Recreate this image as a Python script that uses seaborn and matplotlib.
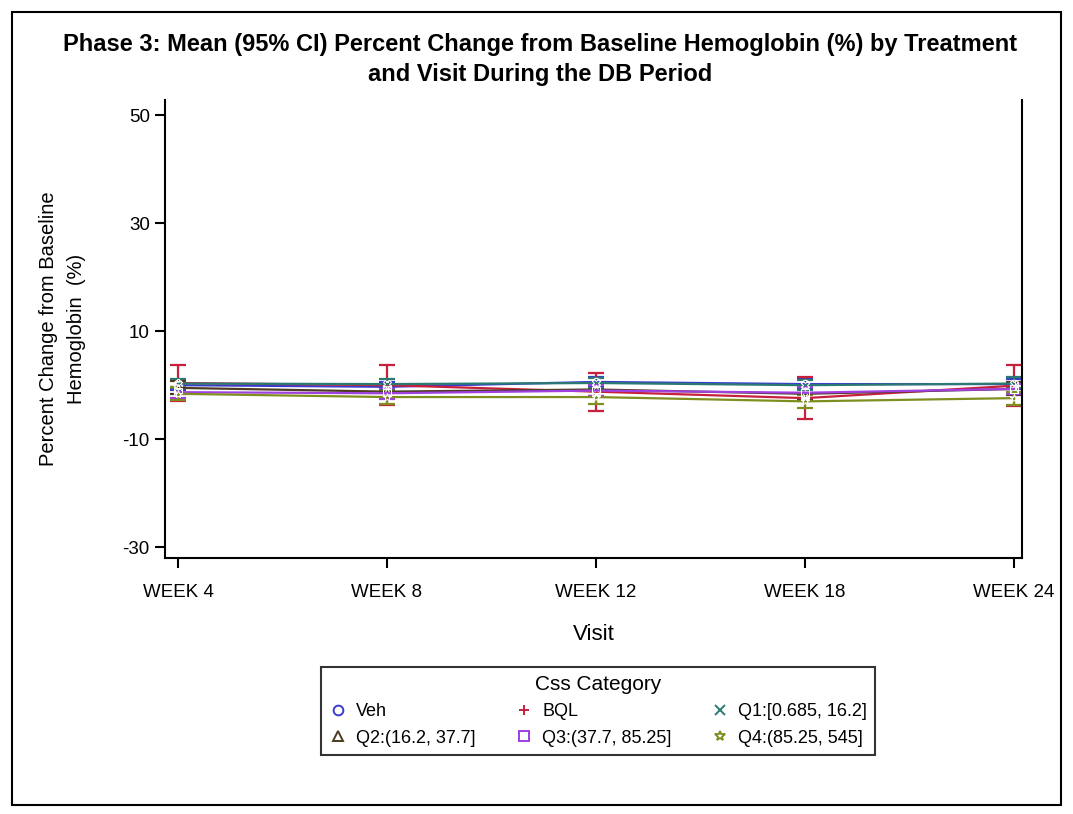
import numpy as np
import pandas as pd
import matplotlib
matplotlib.use("Agg")
import matplotlib.pyplot as plt
import seaborn as sns
from matplotlib.lines import Line2D
from matplotlib.patches import Rectangle

# Visits and treatment groups
visits = ["WEEK 4", "WEEK 8", "WEEK 12", "WEEK 18", "WEEK 24"]
groups = ["Veh", "BQL", "Q1:[0.685, 16.2]", "Q2:(16.2, 37.7]",
          "Q3:(37.7, 85.25]", "Q4:(85.25, 545]"]

# Mean percent change and 95% CI bounds per group
veh_mean = [0.0, -0.3, 0.6, 0.2, 0.2]
veh_lo = [-0.9, -1.2, -0.3, -0.7, -0.7]
veh_hi = [0.9, 0.6, 1.5, 1.1, 1.1]

bql_mean = [0.4, 0.0, -1.2, -2.4, -0.1]
bql_lo = [-2.9, -3.7, -4.8, -6.3, -3.9]
bql_hi = [3.7, 3.7, 2.3, 1.5, 3.7]

q1_mean = [0.3, 0.2, 0.4, 0.0, 0.3]
q1_lo = [-0.6, -0.7, -0.5, -0.9, -0.6]
q1_hi = [1.2, 1.1, 1.3, 0.9, 1.5]

q2_mean = [-0.5, -1.2, -0.8, -1.6, -0.7]
q2_lo = [-1.7, -2.4, -2.0, -2.8, -1.9]
q2_hi = [0.7, 0.0, 0.4, -0.4, 0.5]

q3_mean = [-1.3, -1.5, -1.0, -1.4, -0.7]
q3_lo = [-2.3, -2.5, -2.0, -2.4, -1.7]
q3_hi = [-0.3, -0.5, 0.0, -0.4, 0.3]

q4_mean = [-1.6, -2.2, -2.2, -3.0, -2.4]
q4_lo = [-2.8, -3.4, -3.4, -4.2, -3.6]
q4_hi = [-0.4, -1.0, -1.0, -1.8, -1.2]

colors = ["#3b3bd0", "#c8203c", "#2b7a72", "#4d3b22", "#a040e0", "#7f8e1f"]
line_markers = ["o", "P", "X", "^", "s", "*"]
legend_markers = ["o", "+", "x", "^", "s", "*"]

means = [veh_mean, bql_mean, q1_mean, q2_mean, q3_mean, q4_mean]
lows = [veh_lo, bql_lo, q1_lo, q2_lo, q3_lo, q4_lo]
highs = [veh_hi, bql_hi, q1_hi, q2_hi, q3_hi, q4_hi]

rows = []
for g, m, lo, hi in zip(groups, means, lows, highs):
    for i, v in enumerate(visits):
        rows.append({"group": g, "pos": i, "visit": v,
                     "mean": m[i], "lo": lo[i], "hi": hi[i]})
df = pd.DataFrame(rows)

sns.set_theme(style="white")
plt.rcParams["font.family"] = ["Liberation Sans", "DejaVu Sans"]
plt.rcParams["text.color"] = "black"
plt.rcParams["axes.labelcolor"] = "black"
plt.rcParams["xtick.color"] = "black"
plt.rcParams["ytick.color"] = "black"

fig = plt.figure(figsize=(10.73, 8.14), dpi=100)
W, H = 1073, 814
ax = fig.add_axes([165 / W, 1 - 558 / H, (1022 - 165) / W, (558 - 100) / H])

palette = dict(zip(groups, colors))
sns.lineplot(data=df, x="pos", y="mean", hue="group", palette=palette,
             hue_order=groups, style="group", style_order=groups,
             markers=dict(zip(groups, line_markers)),
             dashes=False, markersize=6, linewidth=1.6, legend=False,
             ax=ax, zorder=3)
for line in ax.lines:
    line.set_markerfacecolor("none")

for g, c in zip(groups, colors):
    sub = df[df["group"] == g]
    ax.errorbar(sub["pos"], sub["mean"],
                yerr=[sub["mean"] - sub["lo"], sub["hi"] - sub["mean"]],
                fmt="none", ecolor=c, elinewidth=1.6, capsize=6,
                capthick=1.6, zorder=2)

ax.set_xlim(-0.062, 4.038)
ax.set_ylim(-32, 52.8)
ax.set_xticks(range(len(visits)))
ax.set_xticklabels(visits, fontsize=13.5)
ax.set_yticks([-30, -10, 10, 30, 50])
ax.set_yticklabels(["-30", "-10", "10", "30", "50"], fontsize=13.5)
ax.tick_params(axis="both", direction="out", length=7, width=1.5,
               color="black", bottom=True, left=True)
ax.tick_params(axis="x", pad=12)
ax.tick_params(axis="y", pad=4)
for side in ["left", "right", "bottom"]:
    ax.spines[side].set_visible(True)
    ax.spines[side].set_color("black")
    ax.spines[side].set_linewidth(1.5)
ax.spines["top"].set_visible(False)
ax.set_xlabel("Visit", fontsize=16, labelpad=16)
ax.set_ylabel("Percent Change from Baseline\nHemoglobin  (%)", fontsize=14.5,
              labelpad=26, linespacing=1.6)

fig.text(540 / W, 1 - 45 / H,
         "Phase 3: Mean (95% CI) Percent Change from Baseline Hemoglobin (%) by Treatment",
         ha="center", va="center", fontsize=17, fontweight="bold")
fig.text(540 / W, 1 - 74 / H, "and Visit During the DB Period",
         ha="center", va="center", fontsize=17, fontweight="bold")

# Legend laid out row-wise in three columns
order = [0, 3, 1, 4, 2, 5]
handles = [Line2D([], [], linestyle="none", marker=legend_markers[i],
                  color=colors[i], markerfacecolor="none", markersize=7,
                  markeredgewidth=1.4) for i in order]
labels = [groups[i] for i in order]
leg = fig.legend(handles, labels, ncol=3, title="Css Category",
                 loc="center", bbox_to_anchor=(598 / W, 1 - 711 / H),
                 fontsize=13, title_fontsize=15, frameon=True,
                 fancybox=False, edgecolor="black", handletextpad=0.5,
                 columnspacing=2.2, borderpad=0.45, labelspacing=0.5,
                 handlelength=1.0)
leg.get_frame().set_linewidth(1.5)

# Outer border around the whole graphic
fig.patches.append(Rectangle((12 / W, 1 - 805 / H), (1061 - 12) / W,
                             (805 - 12) / H, transform=fig.transFigure,
                             fill=False, edgecolor="black", linewidth=1.5))

fig.savefig("out.png", dpi=100)
